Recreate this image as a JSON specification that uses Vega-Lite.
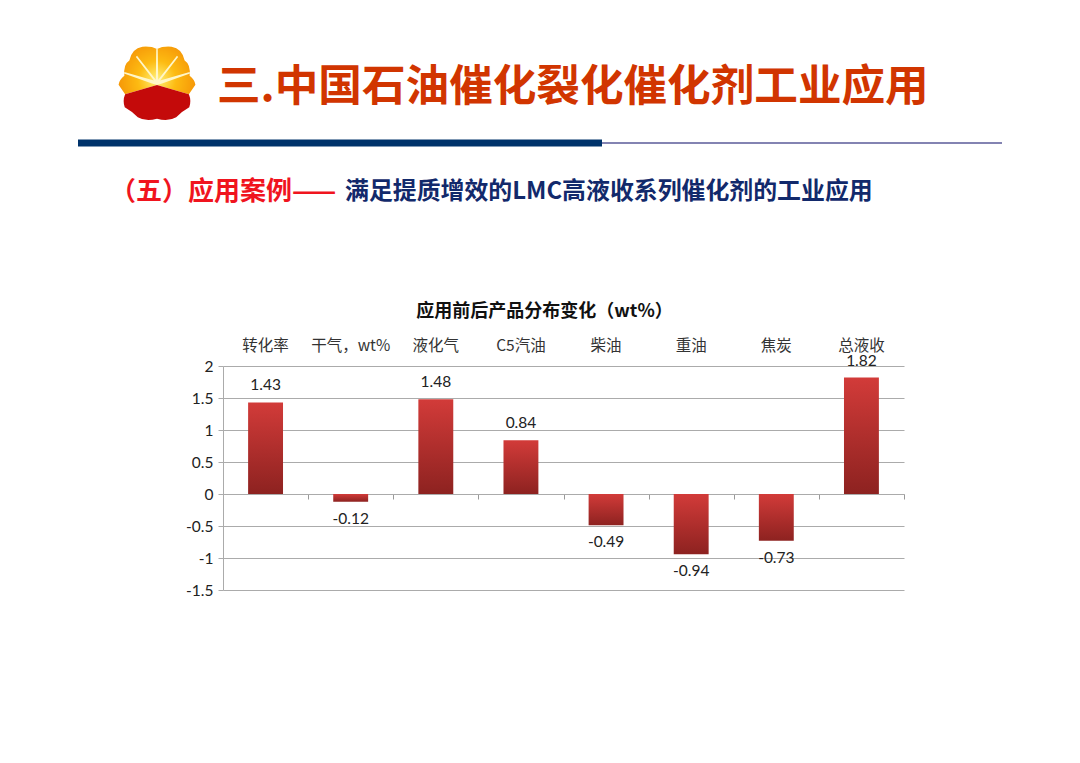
{
"$schema":"https://vega.github.io/schema/vega-lite/v6.json",
"width":681,"height":224,
"autosize":"none",
"padding":{"left":223,"top":366,"right":176,"bottom":173},
"background":"white",
"config":{"view":{"stroke":null},"font":"Noto Sans CJK SC","locale":{"number":{"decimal":".","thousands":",","grouping":[3],"currency":["$",""],"minus":"-"}}},
"title":{"text":"三.中国石油催化裂化催化剂工业应用","anchor":"start","frame":"group","dx":-6,"offset":0,"dy":107,"baseline":"bottom","font":"Noto Sans CJK SC","fontSize":43.6,"fontWeight":"bold","color":"#d13500"},
"datasets":{
"yields":[
{"item":"转化率","change":1.43},{"item":"干气\uff0cwt%","change":-0.12},{"item":"液化气","change":1.48},{"item":"C5汽油","change":0.84},{"item":"柴油","change":-0.49},{"item":"重油","change":-0.94},{"item":"焦炭","change":-0.73},{"item":"总液收","change":1.82}]
},
"resolve":{"scale":{"x":"independent","y":"independent"},"axis":{"x":"independent","y":"independent"}},
"layer":[
{
"data":{"name":"yields"},
"mark":{"type":"bar","opacity":0},
"encoding":{
"x":{"field":"item","type":"nominal","sort":null,"scale":{"paddingInner":0,"paddingOuter":0},
"axis":{"orient":"bottom","offset":-96,"labels":false,"title":null,"domain":true,"domainColor":"#ababab","domainWidth":1.2,"ticks":true,"tickBand":"extent","tickColor":"#999999","tickSize":5,"grid":false}},
"y":{"field":"change","type":"quantitative","axis":null,"scale":{"domain":[-1.5,2],"nice":false,"zero":false}}
}
},
{
"data":{"name":"yields"},
"encoding":{
"x":{"field":"item","type":"nominal","sort":null,"scale":{"paddingInner":0.59,"paddingOuter":0.295},
"axis":{"orient":"top","domain":false,"ticks":false,"labelAngle":0,"labelPadding":21,"labelFontSize":15.5,"labelColor":"#333333","labelFont":"Noto Sans CJK SC","labelBaseline":"middle","labelOverlap":false,
"title":"应用前后产品分布变化\uff08wt%\uff09","titleFont":"Noto Sans CJK SC","titleFontSize":18,"titleFontWeight":"bold","titleColor":"#111111","titleX":321,"titleY":-55,"titleAlign":"center","titleBaseline":"middle"}},
"y":{"field":"change","type":"quantitative","scale":{"domain":[-1.5,2],"nice":false,"zero":false},
"axis":{"title":null,"values":[-1.5,-1,-0.5,0,0.5,1,1.5,2],"format":"~g","labelOverlap":false,"grid":true,"gridColor":"#ababab","gridWidth":1,"domain":true,"domainColor":"#ababab","tickColor":"#ababab","tickSize":5,"labelFont":"Lato","labelFontSize":15.5,"labelColor":"#222222","labelPadding":5}}
},
"layer":[
{"mark":{"type":"bar","color":{"gradient":"linear","x1":0,"y1":0,"x2":0,"y2":1,"stops":[{"offset":0,"color":"#d23b39"},{"offset":1,"color":"#8d2220"}]}}},
{"transform":[{"filter":"datum.change>=0"}],
"mark":{"type":"text","dy":-17,"font":"Lato","fontSize":15.5,"color":"#222222"},
"encoding":{"text":{"field":"change","type":"quantitative","format":".2f"}}},
{"transform":[{"filter":"datum.change<0"}],
"mark":{"type":"text","dy":17,"font":"Lato","fontSize":15.5,"color":"#222222"},
"encoding":{"text":{"field":"change","type":"quantitative","format":".2f"}}}
]
},
{
"encoding":{
"x":{"field":"px","type":"quantitative","axis":null,"scale":{"domain":[223,904],"nice":false,"zero":false}},
"y":{"field":"py","type":"quantitative","axis":null,"scale":{"domain":[366.5,590.5],"reverse":true,"nice":false,"zero":false}}
},
"layer":[
{"data":{"values":[{"part":"thin","px":602,"px2":1002,"py":143.5}]},
"mark":{"type":"rule","color":"#5a5a98","strokeWidth":1.5,"clip":false},
"encoding":{"x2":{"field":"px2"}}},
{"data":{"values":[{"part":"thick","px":78,"px2":602,"py":143.5}]},
"mark":{"type":"rule","color":"#00336b","strokeWidth":7,"clip":false},
"encoding":{"x2":{"field":"px2"}}},
{"data":{"values":[{"label":"\uff08五\uff09应用案例——","px":110,"py":192}]},
"mark":{"type":"text","align":"left","baseline":"middle","font":"Noto Sans CJK SC","fontSize":26,"fontWeight":"bold","color":"#f0141e"},
"encoding":{"text":{"field":"label"}}},
{"data":{"values":[{"label":"满足提质增效的LMC高液收系列催化剂的工业应用","px":345,"py":192}]},
"mark":{"type":"text","align":"left","baseline":"middle","font":"Noto Sans CJK SC","fontSize":23.9,"fontWeight":"bold","color":"#12296b"},
"encoding":{"text":{"field":"label"}}},
{"data":{"values":[{"part":"logo","px":157,"py":84}]},
"layer":[
{"mark":{"type":"point","filled":true,"opacity":1,"size":5900,"shape":"M-0.83 0.28 L0 0.04 L0.83 0.28 L1 0.03 Q0.98 -0.1 0.85 -0.2 Q0.88 -0.5 0.72 -0.6 Q0.65 -0.92 0.38 -0.96 Q0.15 -0.98 0 -0.9 Q-0.15 -0.98 -0.38 -0.96 Q-0.65 -0.92 -0.72 -0.6 Q-0.88 -0.5 -0.85 -0.2 Q-0.98 -0.1 -1 0.03 Z",
"fill":{"gradient":"radial","x1":0.5,"y1":0.62,"r1":0,"x2":0.5,"y2":0.62,"r2":0.7,"stops":[{"offset":0,"color":"#fff27a"},{"offset":0.35,"color":"#fdbb12"},{"offset":1,"color":"#f07d00"}]}}},
{"mark":{"type":"point","filled":true,"opacity":1,"size":5900,"fill":"#c40a0a","shape":"M-0.83 0.28 L0 0.04 L0.83 0.28 Q0.9 0.45 0.84 0.62 Q0.66 0.72 0.5 0.88 Q0.3 1 0 0.92 Q-0.3 1 -0.5 0.88 Q-0.66 0.72 -0.84 0.62 Q-0.9 0.45 -0.83 0.28 Z"}},
{"mark":{"type":"point","filled":true,"opacity":1,"size":5900,"fill":"#fff6c8","shape":"M-0.02 -0.9 L0.02 -0.9 L0.03 -0.1 L0.52 -0.72 L0.55 -0.69 L0.08 -0.08 L0.85 -0.3 L0.86 -0.26 L0.13 0 L0 0.04 L-0.13 0 L-0.86 -0.26 L-0.85 -0.3 L-0.08 -0.08 L-0.55 -0.69 L-0.52 -0.72 L-0.03 -0.1 Z"}}
]
}
]
}
]
}
